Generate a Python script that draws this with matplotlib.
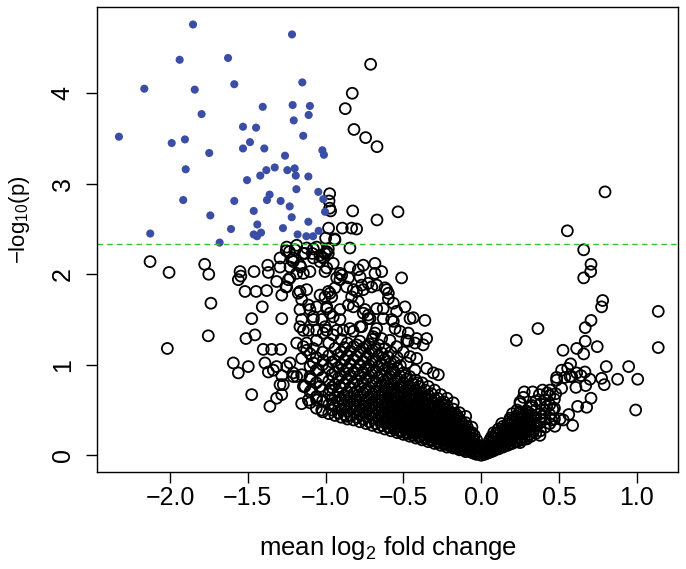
import matplotlib
matplotlib.use('Agg')
import matplotlib.pyplot as plt

plt.rcParams['font.family'] = ['Liberation Sans', 'DejaVu Sans']
plt.rcParams['mathtext.fontset'] = 'custom'
plt.rcParams['mathtext.rm'] = 'Liberation Sans'

# genes passing the cutoff (filled blue)
sig_pts = [
    (-1.852, 4.76), (-1.216, 4.65), (-1.938, 4.37), (-1.627, 4.39), (-2.165, 4.05),
    (-1.841, 4.04), (-1.587, 4.10), (-1.150, 4.12), (-1.797, 3.77), (-1.404, 3.85),
    (-1.212, 3.87), (-1.101, 3.86), (-1.109, 3.76), (-1.205, 3.70), (-2.328, 3.52),
    (-1.989, 3.45), (-1.904, 3.49), (-1.531, 3.63), (-1.447, 3.62), (-1.486, 3.46),
    (-1.531, 3.39), (-1.394, 3.39), (-1.144, 3.53), (-1.748, 3.34), (-1.021, 3.37),
    (-1.011, 3.32), (-1.261, 3.31), (-1.899, 3.16), (-1.381, 3.15), (-1.327, 3.18),
    (-1.420, 3.09), (-1.505, 3.04), (-1.246, 3.15), (-1.199, 3.17), (-1.192, 3.09),
    (-1.111, 3.08), (-1.188, 2.94), (-1.047, 2.91), (-1.915, 2.82), (-1.360, 2.88),
    (-1.377, 2.82), (-1.289, 2.81), (-1.587, 2.81), (-1.231, 2.75), (-1.015, 2.83),
    (-1.741, 2.65), (-1.462, 2.70), (-1.218, 2.63), (-1.111, 2.58), (-1.004, 2.69),
    (-2.127, 2.45), (-1.608, 2.50), (-1.439, 2.55), (-1.462, 2.44), (-1.441, 2.42),
    (-1.415, 2.46), (-1.274, 2.51), (-1.180, 2.44), (-1.124, 2.42), (-1.081, 2.42),
    (-1.045, 2.48), (-1.681, 2.35),
]

# non-significant, high p-score on the left
upper_pts = [
    (-0.711, 4.32), (-0.829, 4.00), (-0.874, 3.83), (-0.818, 3.60), (-0.743, 3.51),
    (-0.670, 3.41), (-0.974, 2.89), (-0.978, 2.81), (-0.974, 2.73), (-0.968, 2.70),
    (-0.826, 2.70), (-0.535, 2.69), (-0.670, 2.60), (-0.981, 2.51), (-0.893, 2.51),
    (-0.833, 2.51), (-0.801, 2.50), (-1.000, 2.40), (-0.942, 2.39),
]

# right side (positive fold change)
right_pts = [
    (0.795, 2.91), (0.553, 2.48), (0.658, 2.27), (0.705, 2.11), (0.703, 2.03),
    (0.658, 1.96), (0.780, 1.71), (0.773, 1.64), (1.137, 1.59), (1.137, 1.19),
    (0.705, 1.49), (0.668, 1.41), (0.364, 1.40), (0.225, 1.27), (0.668, 1.26),
    (0.525, 1.16), (0.613, 1.18), (0.658, 1.12), (0.745, 1.20), (0.803, 0.98),
    (0.947, 0.98), (0.876, 0.84), (1.005, 0.84), (0.992, 0.50), (0.773, 0.85),
    (0.790, 0.78), (0.574, 1.01), (0.555, 0.96), (0.516, 0.94), (0.484, 0.86),
    (0.536, 0.86), (0.581, 0.87), (0.666, 0.92), (0.698, 0.84), (0.641, 0.88),
    (0.671, 0.77), (0.608, 0.75), (0.516, 0.74), (0.478, 0.68), (0.424, 0.69),
    (0.394, 0.72), (0.373, 0.67), (0.276, 0.70), (0.270, 0.64), (0.330, 0.70),
    (0.705, 0.63), (0.677, 0.53), (0.619, 0.54), (0.587, 0.33), (0.562, 0.45),
    (0.473, 0.32), (0.506, 0.40), (0.459, 0.51), (0.420, 0.54), (0.249, 0.57),
    (0.326, 0.55), (0.388, 0.43), (0.356, 0.32), (0.302, 0.37), (0.184, 0.39),
    (0.131, 0.35), (0.227, 0.43), (0.152, 0.28), (0.206, 0.24), (0.270, 0.24),
    (0.334, 0.26), (0.377, 0.22), (0.099, 0.24), (0.056, 0.17), (0.120, 0.15),
    (0.184, 0.13), (0.249, 0.14), (0.292, 0.18), (0.527, 0.39), (0.452, 0.39),
    (0.249, 0.59), (0.441, 0.72), (0.484, 0.83), (0.570, 0.87), (0.613, 0.91),
]

right_cols = [
    (0.02, [0.01, 0.04, 0.08]),
    (0.035, [0.02, 0.06, 0.10]),
    (0.05, [0.03, 0.07, 0.11, 0.15]),
    (0.065, [0.04, 0.09, 0.14, 0.20]),
    (0.08, [0.05, 0.09, 0.13, 0.19, 0.25]),
    (0.095, [0.07, 0.12, 0.18, 0.24]),
    (0.11, [0.07, 0.11, 0.16, 0.22, 0.29]),
    (0.125, [0.09, 0.14, 0.20, 0.27]),
    (0.14, [0.09, 0.13, 0.18, 0.25, 0.32]),
    (0.155, [0.11, 0.17, 0.23, 0.30]),
    (0.17, [0.11, 0.16, 0.21, 0.28, 0.35]),
    (0.185, [0.13, 0.19, 0.26, 0.33, 0.41]),
    (0.20, [0.13, 0.18, 0.24, 0.31, 0.38, 0.46]),
    (0.215, [0.15, 0.22, 0.29, 0.37]),
    (0.23, [0.15, 0.20, 0.27, 0.34, 0.41, 0.50]),
    (0.245, [0.18, 0.25, 0.32, 0.40, 0.48]),
    (0.26, [0.17, 0.23, 0.30, 0.37, 0.45]),
    (0.275, [0.20, 0.28, 0.35, 0.44]),
    (0.29, [0.19, 0.26, 0.33, 0.41, 0.49]),
    (0.305, [0.23, 0.31, 0.39, 0.47]),
    (0.32, [0.21, 0.29, 0.37, 0.45, 0.53]),
    (0.335, [0.27, 0.35, 0.43]),
    (0.35, [0.24, 0.33, 0.41, 0.50, 0.60]),
    (0.38, [0.27, 0.36, 0.46, 0.57]),
    (0.41, [0.31, 0.40, 0.50, 0.61]),
    (0.44, [0.35, 0.45, 0.56, 0.66]),
    (0.47, [0.40, 0.52, 0.62]),
]

# scattered circles on the left arm
left_pts = [
    (-2.128, 2.14), (-2.006, 2.02), (-1.777, 2.11), (-1.751, 2.00), (-1.737, 1.68),
    (-1.754, 1.32), (-2.017, 1.18), (-1.550, 2.03), (-1.561, 1.94), (-1.545, 1.98),
    (-1.460, 2.03), (-1.372, 2.10), (-1.368, 2.02), (-1.293, 2.18), (-1.293, 2.08),
    (-1.233, 2.25), (-1.218, 2.16), (-1.315, 1.92), (-1.229, 1.96), (-1.255, 1.86),
    (-1.160, 2.08), (-1.143, 2.23), (-1.101, 2.03), (-1.086, 2.23), (-1.036, 2.21),
    (-1.518, 1.81), (-1.447, 1.81), (-1.379, 1.82), (-1.407, 1.64), (-1.475, 1.51),
    (-1.282, 1.51), (-1.512, 1.29), (-1.454, 1.33), (-1.401, 1.17), (-1.347, 1.17),
    (-1.289, 1.17), (-1.593, 1.02), (-1.561, 0.91), (-1.497, 0.98), (-1.390, 1.02),
    (-1.368, 0.92), (-1.336, 0.94), (-1.315, 0.98), (-1.250, 0.98), (-1.229, 1.02),
    (-1.282, 0.88), (-1.293, 0.78), (-1.208, 0.91), (-1.186, 0.87), (-1.154, 0.89),
    (-1.475, 0.67), (-1.358, 0.54), (-1.315, 0.63), (-1.282, 1.77), (-1.176, 1.79),
    (-1.154, 1.72), (-1.165, 1.61), (-1.122, 1.83), (-1.154, 1.50), (-1.143, 1.38),
    (-1.101, 1.61), (-1.079, 1.50), (-1.058, 1.64), (-1.036, 1.77), (-1.143, 1.20),
    (-1.122, 1.16), (-1.079, 1.18), (-1.154, 1.07), (-1.079, 1.02), (-1.047, 0.94),
    (-1.015, 1.05), (-1.133, 0.76), (-1.090, 0.72), (-1.111, 0.61), (-1.058, 0.65),
    (-1.025, 0.50), (-1.154, 0.57), (-1.272, 0.78), (-1.282, 0.67),
    (-1.250, 2.30), (-1.186, 2.32), (-1.122, 2.29), (-1.058, 2.30), (-0.993, 2.25),
    (-1.208, 2.18), (-1.079, 2.28), (-0.983, 2.28), (-0.844, 2.29), (-0.940, 2.38),
    (-1.229, 2.08), (-1.165, 2.10), (-1.036, 2.14), (-0.951, 2.12), (-0.908, 2.01),
    (-0.865, 1.86), (-1.165, 1.81), (-1.111, 1.66), (-1.079, 1.53), (-0.972, 1.79),
    (-0.993, 1.64), (-0.951, 1.53), (-0.908, 1.61), (-1.165, 1.42), (-1.111, 1.38),
    (-1.058, 1.38), (-1.186, 1.24), (-1.122, 1.24), (-1.058, 1.27), (-0.993, 1.38),
    (-0.929, 1.38), (-1.208, 0.87), (-1.101, 0.87), (-1.143, 0.76), (-1.036, 0.76),
    (-0.972, 0.72), (-0.908, 0.76), (-1.058, 0.61), (-0.951, 0.56), (-0.865, 0.43),
    (-1.253, 2.26), (-1.197, 2.27), (-1.133, 2.23), (-1.208, 2.14), (-1.079, 2.18),
    (-1.025, 2.19), (-0.983, 2.23), (-1.004, 2.03), (-1.143, 2.01), (-1.186, 2.01),
    (-1.240, 1.94), (-1.250, 1.86), (-0.897, 1.99), (-0.908, 1.94), (-0.940, 1.85),
    (-0.854, 1.96), (-0.929, 1.96), (-0.844, 2.08), (-0.790, 2.05), (-0.758, 2.10),
    (-0.683, 2.12), (-0.640, 2.03), (-0.683, 2.01), (-0.726, 1.90), (-0.779, 1.97),
    (-0.768, 1.88), (-0.801, 1.81), (-0.833, 1.75), (-0.854, 1.66), (-0.822, 1.64),
    (-0.790, 1.70), (-0.758, 1.57), (-0.704, 1.86), (-0.672, 1.88), (-0.608, 1.83),
    (-0.597, 1.73), (-0.565, 1.68), (-0.630, 1.62), (-0.672, 1.62), (-0.726, 1.51),
    (-0.779, 1.42), (-0.512, 1.96), (-0.490, 1.64), (-0.437, 1.52), (-0.362, 1.49),
    (-0.351, 1.29), (-0.426, 1.24), (-0.479, 1.27), (-0.522, 1.37), (-0.554, 1.40),
    (-0.565, 1.48), (-0.630, 1.51), (-0.672, 1.40), (-0.694, 1.31), (-0.640, 1.29),
    (-0.587, 1.27), (-0.544, 1.20), (-0.501, 1.14), (-0.458, 1.09), (-0.415, 1.07),
    (-0.479, 1.02), (-0.426, 0.94), (-0.351, 0.96), (-0.308, 0.91), (-0.276, 0.89),
    (-1.004, 2.23), (-1.015, 2.18), (-0.993, 2.07), (-0.822, 1.83), (-0.758, 1.83),
    (-0.619, 1.85), (-0.597, 1.79), (-0.983, 1.81), (-1.004, 1.75), (-0.961, 1.75),
    (-0.747, 1.61), (-0.726, 1.55), (-0.715, 1.51), (-0.544, 1.59), (-0.458, 1.51),
    (-0.576, 1.50), (-0.469, 1.35), (-0.908, 1.50), (-0.887, 1.38), (-0.844, 1.40),
    (-0.768, 1.42), (-1.025, 1.50), (-1.004, 1.42), (-0.993, 1.62), (-0.972, 1.57),
    (-1.015, 1.35), (-0.951, 1.33), (-0.822, 1.37), (-0.683, 1.35), (-0.469, 1.26),
    (-0.415, 1.29), (-0.373, 1.22),
]

# dense part of the left arm and the bottom of the V
left_cols = [
    (-1.10, [0.58, 0.70, 0.84, 0.98, 1.12]),
    (-1.06, [0.52, 0.64, 0.80, 0.94, 1.08]),
    (-1.02, [0.48, 0.60, 0.72, 0.86, 1.00, 1.14]),
    (-0.98, [0.46, 0.56, 0.68, 0.82, 0.96, 1.10, 1.24]),
    (-0.96, [0.50, 0.62, 0.75, 0.89, 1.03]),
    (-0.94, [0.44, 0.54, 0.64, 0.78, 0.92, 1.04, 1.18]),
    (-0.92, [0.47, 0.59, 0.70, 0.85, 0.97, 1.11]),
    (-0.90, [0.42, 0.51, 0.62, 0.74, 0.88, 1.00, 1.14, 1.28]),
    (-0.88, [0.45, 0.56, 0.66, 0.79, 0.92, 1.05, 1.19]),
    (-0.86, [0.40, 0.49, 0.60, 0.70, 0.84, 0.96, 1.10, 1.24]),
    (-0.84, [0.44, 0.53, 0.64, 0.75, 0.88, 1.01, 1.15]),
    (-0.82, [0.39, 0.48, 0.57, 0.68, 0.80, 0.92, 1.06, 1.20]),
    (-0.80, [0.42, 0.51, 0.61, 0.71, 0.83, 0.95, 1.09, 1.22]),
    (-0.78, [0.37, 0.45, 0.55, 0.65, 0.76, 0.88, 1.00, 1.14, 1.26]),
    (-0.76, [0.40, 0.49, 0.58, 0.69, 0.80, 0.92, 1.04, 1.18]),
    (-0.74, [0.35, 0.43, 0.52, 0.61, 0.72, 0.84, 0.96, 1.08, 1.20]),
    (-0.72, [0.37, 0.46, 0.55, 0.64, 0.75, 0.87, 0.99, 1.12, 1.23]),
    (-0.70, [0.33, 0.41, 0.49, 0.58, 0.68, 0.80, 0.92, 1.04, 1.16, 1.28]),
    (-0.68, [0.35, 0.44, 0.52, 0.61, 0.71, 0.81, 0.93, 1.05, 1.17]),
    (-0.66, [0.31, 0.39, 0.47, 0.56, 0.65, 0.75, 0.86, 0.98, 1.10, 1.22]),
    (-0.64, [0.33, 0.41, 0.49, 0.58, 0.67, 0.78, 0.89, 1.01, 1.13]),
    (-0.62, [0.29, 0.36, 0.44, 0.53, 0.62, 0.71, 0.82, 0.94, 1.06, 1.18]),
    (-0.60, [0.31, 0.38, 0.46, 0.55, 0.64, 0.74, 0.85, 0.97, 1.09]),
    (-0.58, [0.27, 0.34, 0.42, 0.50, 0.59, 0.68, 0.78, 0.90, 1.02, 1.14]),
    (-0.56, [0.29, 0.36, 0.44, 0.52, 0.61, 0.70, 0.80, 0.92, 1.03]),
    (-0.54, [0.25, 0.32, 0.39, 0.47, 0.55, 0.64, 0.74, 0.85, 0.96, 1.08]),
    (-0.52, [0.26, 0.34, 0.41, 0.49, 0.57, 0.66, 0.76, 0.87, 0.99]),
    (-0.50, [0.23, 0.30, 0.37, 0.44, 0.52, 0.61, 0.70, 0.80, 0.91]),
    (-0.48, [0.24, 0.31, 0.39, 0.46, 0.54, 0.63, 0.73, 0.84]),
    (-0.46, [0.21, 0.28, 0.35, 0.42, 0.49, 0.57, 0.66, 0.76, 0.87]),
    (-0.44, [0.22, 0.29, 0.36, 0.44, 0.51, 0.60, 0.69, 0.79]),
    (-0.42, [0.19, 0.25, 0.32, 0.39, 0.46, 0.54, 0.63, 0.72, 0.83]),
    (-0.40, [0.20, 0.27, 0.34, 0.41, 0.48, 0.57, 0.66, 0.76]),
    (-0.38, [0.17, 0.23, 0.29, 0.36, 0.43, 0.51, 0.60, 0.69, 0.80]),
    (-0.36, [0.18, 0.25, 0.31, 0.38, 0.46, 0.54, 0.63, 0.72]),
    (-0.34, [0.15, 0.21, 0.27, 0.34, 0.41, 0.48, 0.57, 0.66, 0.76]),
    (-0.32, [0.16, 0.22, 0.29, 0.35, 0.43, 0.51, 0.59, 0.68]),
    (-0.30, [0.13, 0.19, 0.25, 0.31, 0.38, 0.45, 0.53, 0.62, 0.72]),
    (-0.28, [0.14, 0.20, 0.26, 0.32, 0.39, 0.47, 0.55, 0.63]),
    (-0.26, [0.11, 0.17, 0.22, 0.28, 0.35, 0.42, 0.50, 0.58, 0.67]),
    (-0.24, [0.12, 0.17, 0.23, 0.30, 0.37, 0.44, 0.51, 0.59]),
    (-0.22, [0.09, 0.14, 0.20, 0.26, 0.32, 0.39, 0.47, 0.55, 0.63]),
    (-0.20, [0.10, 0.15, 0.21, 0.27, 0.34, 0.41, 0.48]),
    (-0.18, [0.08, 0.12, 0.18, 0.23, 0.29, 0.36, 0.43, 0.51, 0.58]),
    (-0.16, [0.08, 0.13, 0.19, 0.24, 0.31, 0.38, 0.45]),
    (-0.14, [0.06, 0.10, 0.15, 0.21, 0.27, 0.33, 0.40, 0.47]),
    (-0.12, [0.06, 0.11, 0.16, 0.22, 0.28, 0.35]),
    (-0.10, [0.04, 0.08, 0.12, 0.17, 0.23, 0.29, 0.36, 0.43]),
    (-0.08, [0.05, 0.09, 0.14, 0.20, 0.26]),
    (-0.06, [0.03, 0.06, 0.10, 0.14, 0.19, 0.25, 0.31]),
    (-0.045, [0.02, 0.06, 0.11, 0.16, 0.22]),
    (-0.03, [0.01, 0.04, 0.08, 0.12, 0.17]),
    (0.00, [0.00, 0.03, 0.07]),
]

# extra circles filling the black core of the V
core_pts = [
    (-0.61, 0.40), (-0.61, 0.58), (-0.61, 0.77), (-0.59, 0.31), (-0.59, 0.49), (-0.59, 0.66),
    (-0.57, 0.38), (-0.57, 0.55), (-0.57, 0.73), (-0.57, 0.95), (-0.55, 0.30), (-0.55, 0.45),
    (-0.55, 0.60), (-0.55, 0.82), (-0.53, 0.36), (-0.53, 0.51), (-0.53, 0.69), (-0.51, 0.27),
    (-0.51, 0.42), (-0.51, 0.57), (-0.51, 0.75), (-0.49, 0.33), (-0.49, 0.49), (-0.49, 0.66),
    (-0.49, 0.88), (-0.47, 0.25), (-0.47, 0.40), (-0.47, 0.53), (-0.47, 0.71), (-0.45, 0.32),
    (-0.45, 0.46), (-0.45, 0.62), (-0.43, 0.24), (-0.43, 0.37), (-0.43, 0.50), (-0.43, 0.67),
    (-0.41, 0.29), (-0.41, 0.43), (-0.41, 0.58), (-0.41, 0.80), (-0.39, 0.21), (-0.39, 0.34),
    (-0.39, 0.47), (-0.39, 0.64), (-0.37, 0.27), (-0.37, 0.40), (-0.37, 0.56), (-0.35, 0.19),
    (-0.35, 0.31), (-0.35, 0.45), (-0.35, 0.61), (-0.33, 0.25), (-0.33, 0.38), (-0.33, 0.53),
    (-0.31, 0.17), (-0.31, 0.28), (-0.31, 0.42), (-0.31, 0.57), (-0.29, 0.23), (-0.29, 0.35),
    (-0.29, 0.49), (-0.27, 0.15), (-0.27, 0.26), (-0.27, 0.39), (-0.27, 0.54), (-0.25, 0.20),
    (-0.25, 0.33), (-0.25, 0.46), (-0.23, 0.13), (-0.23, 0.24), (-0.23, 0.36), (-0.23, 0.51),
    (-0.21, 0.18), (-0.21, 0.30), (-0.21, 0.43), (-0.19, 0.11), (-0.19, 0.21), (-0.19, 0.33),
    (-0.19, 0.46), (-0.17, 0.16), (-0.17, 0.27), (-0.17, 0.40), (-0.15, 0.09), (-0.15, 0.19),
    (-0.15, 0.30), (-0.15, 0.42), (-0.13, 0.13), (-0.13, 0.25), (-0.13, 0.37), (-0.11, 0.07),
    (-0.11, 0.15), (-0.11, 0.26), (-0.09, 0.11), (-0.09, 0.18), (-0.09, 0.31), (-0.07, 0.04),
    (-0.07, 0.13), (-0.07, 0.23), (-0.05, 0.08), (-0.02, 0.02), (-0.02, 0.10),
]

cutoff = 2.338
x_ticks = [-2.0, -1.5, -1.0, -0.5, 0.0, 0.5, 1.0]
x_labels = ['\u22122.0', '\u22121.5', '\u22121.0', '\u22120.5', '0.0', '0.5', '1.0']
y_ticks = [0, 1, 2, 3, 4]

open_pts = upper_pts + right_pts + left_pts + core_pts
for cx, ys in left_cols + right_cols:
    open_pts += [(cx, v) for v in ys]

ox = [p[0] for p in open_pts]
oy = [p[1] for p in open_pts]
bx = [p[0] for p in sig_pts]
by = [p[1] for p in sig_pts]

fig = plt.figure(figsize=(6.86, 5.69), dpi=100)
ax = fig.add_axes([0.1414, 0.170, 0.8474, 0.8172])

ax.scatter(ox, oy, s=62, facecolors='none', edgecolors='black', linewidths=1.3)
ax.scatter(bx, by, s=34, color='#3b4ea6', edgecolors='none')
ax.axhline(cutoff, color='#3dbb3d', linestyle=(0, (4, 3)), linewidth=1.0)

ax.set_xlim(-2.469, 1.266)
ax.set_ylim(-0.188, 4.950)
ax.set_xticks(x_ticks)
ax.set_xticklabels(x_labels)
ax.set_yticks(y_ticks)
ax.set_yticklabels([str(v) for v in y_ticks], rotation=90, va='center')
ax.tick_params(axis='both', direction='out', length=8, width=1.0)
ax.tick_params(axis='x', pad=2, labelsize=18)
ax.tick_params(axis='y', pad=8, labelsize=18)
for sp in ax.spines.values():
    sp.set_linewidth(1.0)

ax.set_xlabel(r'mean $\mathregular{log_2}$ fold change', fontsize=18.5)
ax.xaxis.set_label_coords(0.5, -0.163)
ax.xaxis.label.set_va('center')
ax.set_ylabel(r'$\mathregular{\u2212log_{10}(p)}$'.replace('\\u2212', '\u2212'), fontsize=16)
ax.yaxis.set_label_coords(-0.1325, 0.543)
ax.yaxis.label.set_va('center')

fig.savefig('out.png', dpi=100)
